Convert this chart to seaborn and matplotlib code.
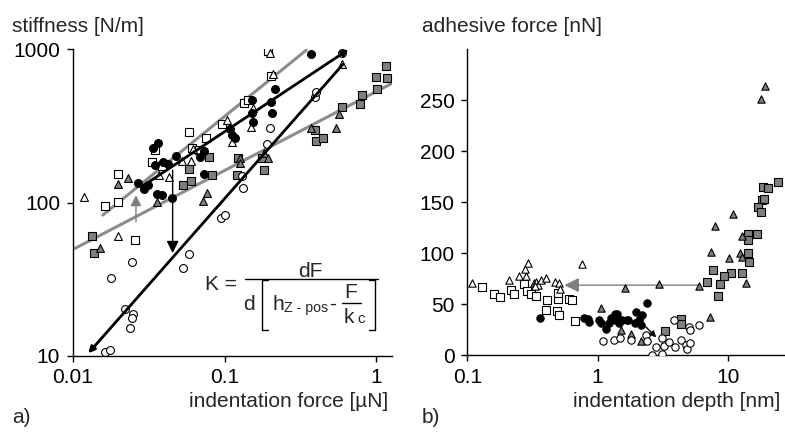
# Stiffness vs indentation force (a) and adhesive force vs indentation depth (b)

import numpy as np
import pandas as pd
import seaborn as sns
import matplotlib.pyplot as plt
from matplotlib.lines import Line2D
from matplotlib.ticker import FixedLocator, NullLocator

sns.set_style('ticks')
plt.rcParams['font.family'] = ['Liberation Sans', 'DejaVu Sans']

# ---------------- panel a: stiffness [N/m] vs indentation force [uN]
a_osq_x = [0.0162, 0.0200, 0.0200, 0.0257, 0.0348, 0.0334, 0.0385, 0.0586, 0.0607, 0.0681,
           0.0754, 0.0955, 0.1347, 0.1417, 0.194, 0.2007]
a_osq_y = [95.5, 101.5, 153.8, 57.1, 220.5, 183.2, 174.3, 290.4, 226.1, 220.5,
           265.4, 324.3, 448.9, 467.3, 980, 669.9]

a_otr_x = [0.0119, 0.0200, 0.0372, 0.0430, 0.0521, 0.0600, 0.0622, 0.1031, 0.1123, 0.1483,
           0.1528, 0.1987, 0.2069, 0.597]
a_otr_y = [108.9, 60.6, 151.5, 147.9, 187.0, 187.0, 222.8, 346, 250, 313,
           412, 942, 687, 798]

a_fci_x = [0.0268, 0.0296, 0.0315, 0.0339, 0.0364, 0.0348, 0.0395, 0.0422, 0.0357, 0.0385,
           0.0450, 0.0476, 0.0688, 0.0735, 0.0735, 0.1084, 0.1123, 0.1169, 0.1505, 0.1521,
           0.1528, 0.2017, 0.2143, 0.2038, 0.368]
a_fci_y = [135, 122.2, 130.4, 228.4, 246.2, 176.1, 183.2, 177.8, 113.9, 112.2,
           107.8, 201.5, 197.5, 217.3, 153.8, 300.9, 276.3, 265.4, 467.3, 382.5,
           337.5, 455.6, 548.3, 382.5, 927.7]

a_oci_x = [0.0162, 0.0176, 0.0221, 0.0251, 0.0247, 0.0238, 0.0179, 0.0244, 0.0529, 0.0583,
           0.0946, 0.1005, 0.1294, 0.1313, 0.1889, 0.1987, 0.393, 0.399, 0.597]
a_oci_y = [10.6, 10.9, 20.2, 18.7, 17.6, 15.3, 32.4, 40.8, 37.3, 46.0,
           79.8, 83.1, 149.2, 124.0, 240.0, 308.4, 491.2, 529.6, 942]

a_gsq_x = [0.0133, 0.0139, 0.0535, 0.0600, 0.0586, 0.0793, 0.0830, 0.1230, 0.1199, 0.1751,
           0.1815, 0.393, 0.399, 0.442, 0.597, 0.781, 0.801, 1.0, 1.005, 1.164, 1.181]
a_gsq_y = [60.6, 46.7, 130.4, 138.5, 165.8, 199.5, 151.5, 194.6, 151.5, 196.6,
           163.3, 297.8, 252.6, 262.9, 422.7, 437.9, 503.7, 663.4, 551.1, 778.6, 653.4]

a_gtr_x = [0.0151, 0.0200, 0.0230, 0.0357, 0.0724, 0.0761, 0.1261, 0.1261, 0.1815, 0.194,
           0.368, 0.540, 0.568]
a_gtr_y = [50.4, 132.4, 144.1, 101.5, 102.5, 116.1, 194.6, 180.5, 211.9, 196.6,
           308.4, 305.3, 378.8]

# fitted lines (end points)
a_fit_upper_x = [0.0158, 0.345]
a_fit_upper_y = [83, 990]
a_fit_lower_x = [0.01035, 1.26]
a_fit_lower_y = [50.3, 600]
a_fit_black_x = [0.0284, 0.654]
a_fit_black_y = [127, 1000]
a_fit_steep_x = [0.603, 0.01267]
a_fit_steep_y = [802, 10.4]

# ---------------- panel b: adhesive force [nN] vs indentation depth [nm]
b_otr_x = [0.109, 0.208, 0.250, 0.281, 0.279, 0.292, 0.325, 0.338, 0.351, 0.365,
           0.404, 0.467, 0.504, 0.519, 0.759, 0.33]
b_otr_y = [70.9, 73.5, 77.5, 77.5, 84.0, 90.5, 70.9, 71.9, 68.6, 73.5,
           75.8, 71.9, 70.3, 64.7, 88.9, 67.6]

b_osq_x = [0.129, 0.160, 0.178, 0.216, 0.227, 0.271, 0.289, 0.310, 0.338, 0.408,
           0.399, 0.495, 0.495, 0.490, 0.504, 0.608, 0.634, 0.676]
b_osq_y = [67.0, 59.5, 57.2, 63.7, 59.5, 69.6, 62.7, 59.8, 58.2, 53.9,
           44.1, 54.9, 61.1, 43.5, 39.2, 54.6, 53.9, 33.3]

b_fci_x = [0.359, 0.791, 0.840, 0.863, 1.018, 1.06, 1.158, 1.228, 1.264, 1.364,
           1.421, 1.364, 1.463, 1.534, 1.675, 1.725, 1.940, 1.985, 2.08, 2.14,
           2.21, 2.38]
b_fci_y = [36.6, 36.6, 35.0, 32.7, 34.3, 31.0, 25.5, 31.0, 35.9, 39.9,
           39.9, 34.3, 31.0, 34.3, 34.3, 34.3, 31.0, 42.2, 34.3, 29.4,
           39.2, 51.3]

b_oci_x = [1.105, 1.34, 1.49, 1.82, 2.34, 2.38, 2.60, 2.82, 3.10, 3.13,
           3.23, 3.56, 3.89, 3.96, 4.33, 4.78, 4.86, 5.16, 5.07, 5.16, 6.04]
b_oci_y = [13.7, 14.7, 17.0, 14.7, 19.6, 13.7, 0.5, 7.5, 1.0, 17.0,
           8.8, 13.1, 34.0, 7.5, 14.7, 9.8, 5.9, 11.4, 27.8, 24.5, 29.4]

b_gtr_x = [17.96, 19.3, 10.86, 7.91, 12.94, 7.46, 12.42, 12.94, 10.24, 13.8,
           5.97, 2.96, 1.63, 7.24, 1.06, 1.52, 1.82, 2.14]
b_gtr_y = [251.6, 263.7, 138.6, 126.2, 116.4, 100.9, 99.7, 96.4, 94.8, 70.3,
           67.6, 69.9, 65.7, 37.6, 45.8, 24.5, 20.6, 14.1]

b_gsq_x = [24.4, 18.7, 20.2, 18.2, 19.05, 16.9, 17.9, 16.6, 14.4, 14.4,
           14.4, 14.6, 12.8, 10.5, 9.27, 8.74, 7.68, 6.91, 8.34, 4.38, 4.38, 3.29]
b_gsq_y = [169.9, 165.0, 164.0, 152.3, 152.9, 145.4, 140.5, 119.1, 118.4, 113.4,
           100.3, 91.5, 81.0, 80.1, 77.5, 69.3, 83.3, 71.9, 57.8, 35.0, 30.1, 23.9]

GRAY = '#7f7f7f'
LGRAY = '#8c8c8c'
FS = 15

fig = plt.figure(figsize=(7.85, 4.34), dpi=100)
ax1 = fig.add_axes([0.0926, 0.180, 0.4064, 0.706])
ax2 = fig.add_axes([0.5953, 0.182, 0.4035, 0.704])


def markers(ax, x, y, m, face, s=32):
    sns.scatterplot(x=x, y=y, marker=m, s=s, color=face, edgecolor='black',
                    linewidth=0.8, ax=ax, zorder=3, legend=False)


# panel a lines
sns.lineplot(x=a_fit_upper_x, y=a_fit_upper_y, color=LGRAY, lw=2.2, ax=ax1, zorder=2)
sns.lineplot(x=a_fit_lower_x, y=a_fit_lower_y, color=LGRAY, lw=2.2, ax=ax1, zorder=2)
for fx, fy in [(a_fit_black_x, a_fit_black_y), (a_fit_steep_x, a_fit_steep_y)]:
    ax1.annotate('', xy=(fx[1], fy[1]), xytext=(fx[0], fy[0]),
                 arrowprops=dict(arrowstyle='-|>', color='black', lw=2,
                                 mutation_scale=9, shrinkA=0, shrinkB=0), zorder=4)

markers(ax1, a_gsq_x, a_gsq_y, 's', GRAY)
markers(ax1, a_gtr_x, a_gtr_y, '^', GRAY)
markers(ax1, a_osq_x, a_osq_y, 's', 'white')
markers(ax1, a_otr_x, a_otr_y, '^', 'white')
markers(ax1, a_oci_x, a_oci_y, 'o', 'white')
markers(ax1, a_fci_x, a_fci_y, 'o', 'black')

# arrows in panel a
ax1.annotate('', xy=(0.0455, 46.9), xytext=(0.0455, 163),
             arrowprops=dict(arrowstyle='-|>', color='black', lw=1,
                             mutation_scale=18, shrinkA=0, shrinkB=0), zorder=5)
ax1.annotate('', xy=(0.0261, 112), xytext=(0.0261, 75),
             arrowprops=dict(arrowstyle='-|>', color=GRAY, lw=1,
                             mutation_scale=16, shrinkA=0, shrinkB=0), zorder=5)

ax1.set_xscale('log')
ax1.set_yscale('log')
ax1.set_xlim(0.01, 1.26)
ax1.set_ylim(10, 1000)
ax1.xaxis.set_major_locator(FixedLocator([0.01, 0.1, 1]))
ax1.yaxis.set_major_locator(FixedLocator([10, 100, 1000]))
ax1.xaxis.set_minor_locator(NullLocator())
ax1.yaxis.set_minor_locator(NullLocator())
ax1.set_xticklabels(['0.01', '0.1', '1'])
ax1.set_yticklabels(['10', '100', '1000'])

# formula K = dF / d[h_Z-pos - F/k_c], set by hand in figure coordinates
ft = dict(fontsize=FS, va='baseline', transform=fig.transFigure)
fig.text(0.2611, 0.3318, 'K =', ha='left', **ft)
fig.text(0.3949, 0.3624, 'dF', ha='center', **ft)
fig.text(0.3096, 0.2857, 'd', ha='left', **ft)
fig.text(0.3465, 0.2857, 'h', ha='left', **ft)
fig.text(0.3618, 0.2800, 'Z - pos', ha='left', fontsize=FS * 0.68, va='baseline',
         transform=fig.transFigure)
fig.text(0.4242, 0.2857, '-', ha='center', **ft)
fig.text(0.4471, 0.3140, 'F', ha='center', **ft)
fig.text(0.4382, 0.2550, 'k', ha='left', **ft)
fig.text(0.4548, 0.2550, 'c', ha='left', fontsize=FS * 0.72, va='baseline',
         transform=fig.transFigure)
lk = dict(color='black', lw=1, transform=fig.transFigure)
fig.add_artist(Line2D([0.3121, 0.4815], [0.3571, 0.3571], **lk))
fig.add_artist(Line2D([0.4357, 0.4599], [0.3026, 0.3026], **lk))
fig.add_artist(Line2D([0.3415, 0.3338, 0.3338, 0.3415],
                      [0.3548, 0.3548, 0.2396, 0.2396], **lk))
fig.add_artist(Line2D([0.4700, 0.4777, 0.4777, 0.4700],
                      [0.3548, 0.3548, 0.2396, 0.2396], **lk))

# panel b
ax2.annotate('', xy=(0.557, 68.6), xytext=(5.97, 68.6),
             arrowprops=dict(arrowstyle='-|>', color=GRAY, lw=1,
                             mutation_scale=22, shrinkA=0, shrinkB=0), zorder=2)
ax2.annotate('', xy=(2.82, 17.3), xytext=(2.21, 31),
             arrowprops=dict(arrowstyle='-|>', color='black', lw=1,
                             mutation_scale=9, shrinkA=0, shrinkB=0), zorder=5)

s_b = 28
markers(ax2, b_gsq_x, b_gsq_y, 's', GRAY, s_b)
markers(ax2, b_gtr_x, b_gtr_y, '^', GRAY, s_b)
markers(ax2, b_osq_x, b_osq_y, 's', 'white', s_b)
markers(ax2, b_otr_x, b_otr_y, '^', 'white', s_b)
markers(ax2, b_oci_x, b_oci_y, 'o', 'white', s_b)
markers(ax2, b_fci_x, b_fci_y, 'o', 'black', s_b)

ax2.set_xscale('log')
ax2.set_xlim(0.1, 27)
ax2.set_ylim(0, 300)
ax2.xaxis.set_major_locator(FixedLocator([0.1, 1, 10]))
ax2.xaxis.set_minor_locator(NullLocator())
ax2.set_xticklabels(['0.1', '1', '10'])
ax2.yaxis.set_major_locator(FixedLocator([0, 50, 100, 150, 200, 250]))

for ax in (ax1, ax2):
    sns.despine(ax=ax)
    for sp in ('left', 'bottom'):
        ax.spines[sp].set_linewidth(1)
        ax.spines[sp].set_color('black')
    ax.tick_params(direction='out', length=4, width=1, labelsize=FS, pad=5,
                   colors='black')
    ax.set_xlabel('')
    ax.set_ylabel('')

fig.text(0.0153, 0.938, 'stiffness [N/m]', fontsize=FS, ha='left', va='center')
fig.text(0.5376, 0.938, 'adhesive force [nN]', fontsize=FS, ha='left', va='center')
fig.text(0.494, 0.074, 'indentation force [µN]', fontsize=FS, ha='right', va='center')
fig.text(0.994, 0.074, 'indentation depth [nm]', fontsize=FS, ha='right', va='center')
fig.text(0.0153, 0.037, 'a)', fontsize=FS, ha='left', va='center')
fig.text(0.5376, 0.037, 'b)', fontsize=FS, ha='left', va='center')

fig.savefig('out.png', dpi=100)
